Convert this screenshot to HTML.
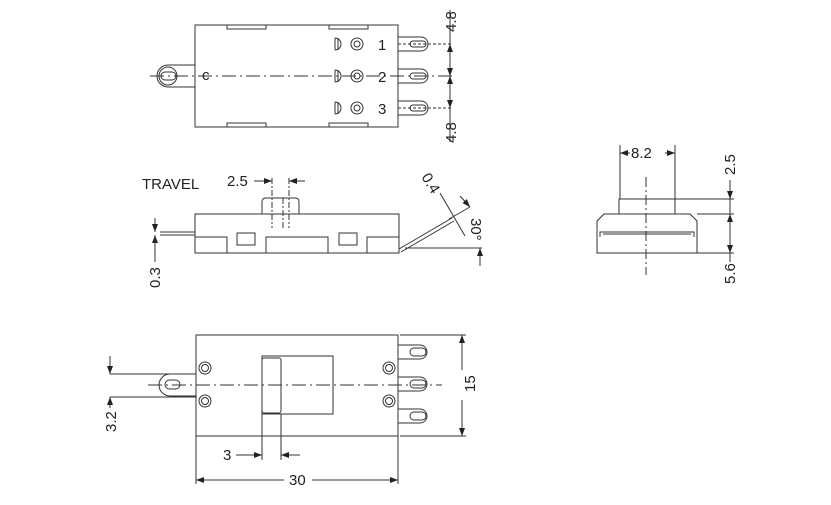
<!DOCTYPE html>
<html><head><style>
html,body{margin:0;padding:0;background:#fff;width:831px;height:505px;overflow:hidden}
svg{display:block}
text{font-family:"Liberation Sans",sans-serif;font-size:15px;fill:#222}
</style></head><body>
<svg width="831" height="505" viewBox="0 0 831 505" xmlns="http://www.w3.org/2000/svg">
<defs>
<marker id="a" markerWidth="8" markerHeight="6" refX="8" refY="3" orient="auto-start-reverse"><path d="M0,0 L8,3 L0,6z" fill="#222"/></marker>
</defs>
<g stroke="#333" stroke-width="1" fill="none">
<!-- TOP VIEW -->
<rect x="195" y="25" width="203" height="102"/>
<rect x="227" y="25" width="39" height="4"/><rect x="329" y="25" width="39" height="4"/>
<rect x="227" y="123" width="39" height="4"/><rect x="329" y="123" width="39" height="4"/>
<path d="M195,65 L168,65 A11,11 0 0 0 168,87 L195,87"/>
<rect x="161" y="72" width="15" height="8" rx="4"/>
<circle cx="168" cy="76" r="9"/>
<line x1="150" y1="76" x2="455" y2="76" stroke-dasharray="14,4,2,4"/>
<g id="term">
<path d="M398,37 L421,37 A7,7 0 0 1 421,51 L398,51"/>
<rect x="410" y="41" width="16" height="6" rx="3"/>
</g>
<use href="#term" y="32"/><use href="#term" y="64"/>
<line x1="398" y1="44" x2="452" y2="44" stroke-dasharray="3,2"/>
<line x1="398" y1="108" x2="452" y2="108" stroke-dasharray="3,2"/>
<circle cx="357" cy="44" r="6"/><circle cx="357" cy="44" r="3"/>
<circle cx="357" cy="76" r="6"/><circle cx="357" cy="76" r="3"/>
<circle cx="357" cy="108" r="6"/><circle cx="357" cy="108" r="3"/>
<path d="M335,38 L335,50 M335,38 A6,6 0 0 1 335,50 M338,38 L338,50"/>
<path d="M335,70 L335,82 M335,70 A6,6 0 0 1 335,82 M338,70 L338,82"/>
<path d="M335,102 L335,114 M335,102 A6,6 0 0 1 335,114 M338,102 L338,114"/>
<line x1="450" y1="10" x2="450" y2="142"/>
<line x1="450" y1="52" x2="450" y2="44" marker-end="url(#a)"/>
<line x1="450" y1="68" x2="450" y2="76" marker-end="url(#a)"/>
<line x1="450" y1="84" x2="450" y2="76" marker-end="url(#a)"/>
<line x1="450" y1="100" x2="450" y2="108" marker-end="url(#a)"/>

<!-- SIDE VIEW -->
<rect x="195" y="214" width="204" height="39"/>
<path d="M195,237 L227,237 L227,253 M266,253 L266,237 L328,237 L328,253 M367,253 L367,237 L399,237"/>
<rect x="237" y="233" width="18" height="12"/><rect x="339" y="233" width="18" height="12"/>
<path d="M262,214 L262,202 Q262,198 266,198 L295,198 Q299,198 299,202 L299,214"/>
<line x1="272" y1="178" x2="272" y2="228" stroke-dasharray="6,2,2,2"/>
<line x1="283" y1="198" x2="283" y2="228" stroke-dasharray="6,2,2,2"/>
<line x1="289" y1="178" x2="289" y2="228" stroke-dasharray="6,2,2,2"/>
<line x1="254" y1="181" x2="272" y2="181" marker-end="url(#a)"/>
<line x1="305" y1="181" x2="289" y2="181" marker-end="url(#a)"/>
<line x1="160" y1="232" x2="195" y2="232"/><line x1="160" y1="235" x2="195" y2="235"/>
<line x1="155" y1="218" x2="155" y2="232" marker-end="url(#a)"/>
<line x1="155" y1="250" x2="155" y2="235" marker-end="url(#a)"/>
<line x1="155" y1="235" x2="155" y2="262"/>
<path d="M399,249 L452,218 M401,252 L454,221"/>
<line x1="405" y1="248" x2="482" y2="248"/>
<line x1="440" y1="193" x2="465" y2="236"/>
<line x1="449" y1="219" x2="470" y2="207"/>
<line x1="480" y1="266" x2="480" y2="248" marker-end="url(#a)"/>
<line x1="460" y1="196" x2="470" y2="207" marker-end="url(#a)"/>

<!-- RIGHT VIEW -->
<rect x="619" y="199" width="56" height="15"/>
<path d="M597,253 L597,221 L604,214 L690,214 L697,221 L697,253 Z"/>
<path d="M600,237 L600,232 L604,232 L690,232 L694,232 L694,237"/>
<line x1="603" y1="234" x2="691" y2="234"/>
<line x1="646" y1="177" x2="646" y2="275" stroke-dasharray="10,3,2,3"/>
<line x1="620" y1="145" x2="620" y2="199"/><line x1="675" y1="145" x2="675" y2="199"/>
<line x1="630" y1="153" x2="620" y2="153" marker-end="url(#a)"/>
<line x1="665" y1="153" x2="675" y2="153" marker-end="url(#a)"/>
<line x1="675" y1="199" x2="734" y2="199"/><line x1="697" y1="214" x2="734" y2="214"/><line x1="697" y1="253" x2="734" y2="253"/>
<line x1="730" y1="180" x2="730" y2="262"/>
<line x1="730" y1="190" x2="730" y2="199" marker-end="url(#a)"/>
<line x1="730" y1="226" x2="730" y2="214" marker-end="url(#a)"/>
<line x1="730" y1="240" x2="730" y2="253" marker-end="url(#a)"/>

<!-- BOTTOM VIEW -->
<rect x="196" y="335" width="202" height="101"/>
<rect x="262" y="356" width="71" height="58"/>
<rect x="262" y="358" width="19" height="55" rx="2"/>
<circle cx="205" cy="368" r="6"/><circle cx="205" cy="368" r="3.5"/>
<circle cx="205" cy="401" r="6"/><circle cx="205" cy="401" r="3.5"/>
<circle cx="389" cy="368" r="6"/><circle cx="389" cy="368" r="3.5"/>
<circle cx="389" cy="401" r="6"/><circle cx="389" cy="401" r="3.5"/>
<path d="M196,374 L170,374 A11,11 0 0 0 170,396 L196,396"/>
<rect x="165" y="380" width="15" height="9" rx="4.5"/>
<line x1="148" y1="385" x2="442" y2="385" stroke-dasharray="14,4,2,4"/>
<g id="t2"><path d="M398,345 L420,345 A7,7 0 0 1 420,359 L398,359"/><rect x="410" y="348" width="16" height="8" rx="4"/></g>
<use href="#t2" y="32"/><use href="#t2" y="64"/>
<line x1="400" y1="335" x2="466" y2="335"/><line x1="400" y1="436" x2="466" y2="436"/>
<line x1="462" y1="370" x2="462" y2="335" marker-end="url(#a)"/>
<line x1="462" y1="400" x2="462" y2="436" marker-end="url(#a)"/>
<line x1="110" y1="374" x2="196" y2="374"/><line x1="110" y1="397" x2="196" y2="397"/>
<line x1="110" y1="356" x2="110" y2="374" marker-end="url(#a)"/>
<line x1="110" y1="408" x2="110" y2="397" marker-end="url(#a)"/>
<line x1="262" y1="414" x2="262" y2="460"/><line x1="281" y1="414" x2="281" y2="460"/>
<line x1="236" y1="455" x2="262" y2="455" marker-end="url(#a)"/>
<line x1="300" y1="455" x2="281" y2="455" marker-end="url(#a)"/>
<line x1="196" y1="436" x2="196" y2="484"/><line x1="398" y1="436" x2="398" y2="484"/>
<line x1="284" y1="480" x2="196" y2="480" marker-end="url(#a)"/>
<line x1="312" y1="480" x2="398" y2="480" marker-end="url(#a)"/>
</g>
<!-- TEXT -->
<text x="378" y="50">1</text><text x="378" y="82">2</text><text x="378" y="114">3</text>
<text x="202" y="80" font-size="12">c</text>
<text transform="translate(456,32) rotate(-90)">4.8</text>
<text transform="translate(456,143) rotate(-90)">4.8</text>
<text x="142" y="189">TRAVEL</text>
<text x="227" y="186">2.5</text>
<text transform="translate(160,288) rotate(-90)">0.3</text>
<text transform="translate(421,177) rotate(58)">0.4</text>
<text transform="translate(471,218) rotate(90)">30°</text>
<text x="631" y="158">8.2</text>
<text transform="translate(735,175) rotate(-90)">2.5</text>
<text transform="translate(735,284) rotate(-90)">5.6</text>
<text transform="translate(475,392) rotate(-90)">15</text>
<text transform="translate(116,432) rotate(-90)">3.2</text>
<text x="223" y="460">3</text>
<text x="289" y="485">30</text>
</svg>
</body></html>
